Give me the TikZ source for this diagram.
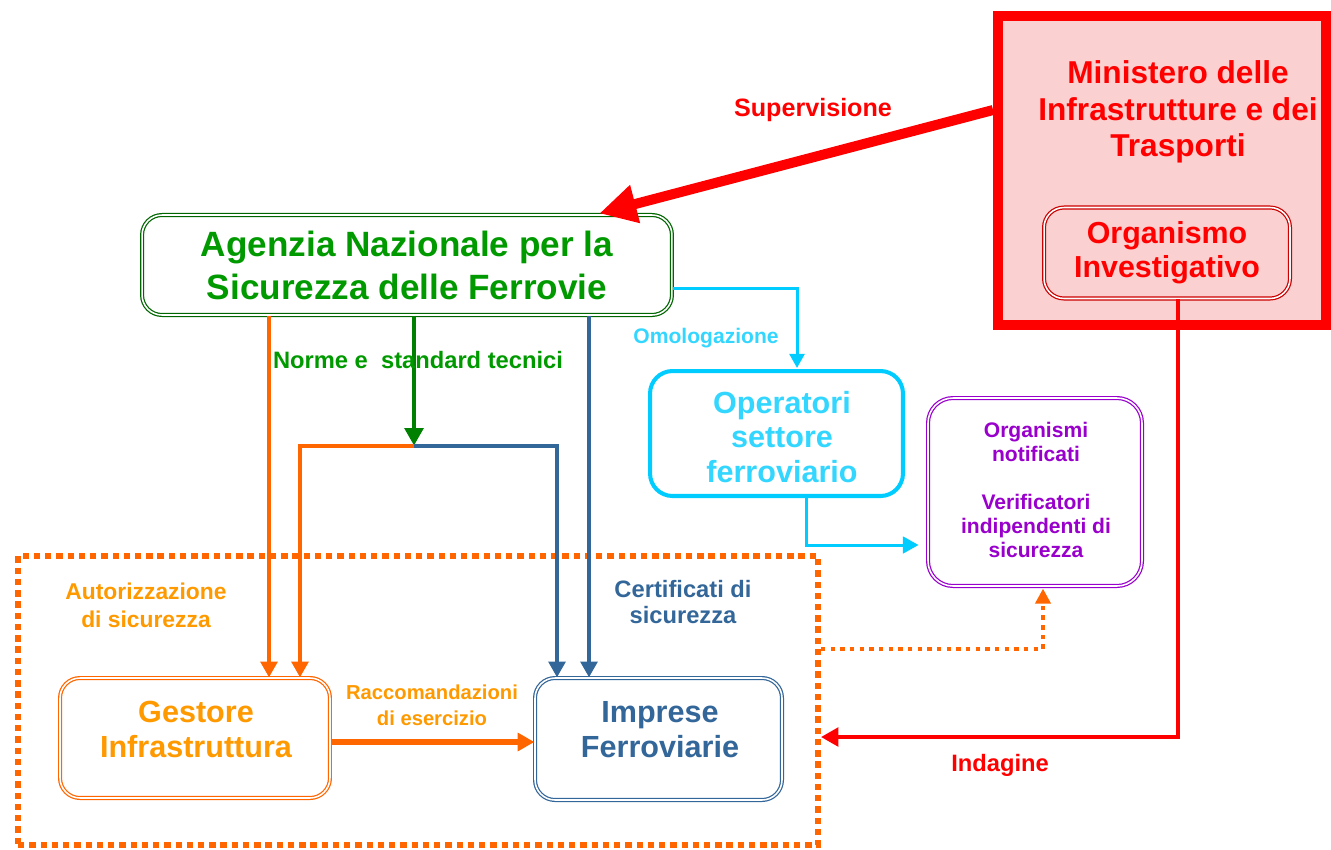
\documentclass[tikz,border=0pt]{standalone}
\usepackage{fontspec}
\setmainfont{Liberation Sans}
\usetikzlibrary{arrows.meta,calc}

\definecolor{ansfgreen}{HTML}{009900}
\definecolor{ansfdark}{HTML}{006600}
\definecolor{gitext}{HTML}{FF9900}
\definecolor{giline}{HTML}{FF6600}
\definecolor{ifblue}{HTML}{336699}
\definecolor{opscyan}{HTML}{00CCFF}
\definecolor{nbpurple}{HTML}{9900CC}
\definecolor{mitred}{HTML}{FF0000}
\definecolor{mitpink}{HTML}{FAD0D0}

\tikzset{
    box/.style={rounded corners=0.4cm, double=white, double distance=0.9pt, line width=0.7pt},
    txt/.style={font=\bfseries, align=center, inner sep=0pt},
    ansfbox/.style={box, draw=ansfdark, fill=white, minimum width=10.6cm, minimum height=2cm,
        text=ansfgreen, font=\bfseries\fontsize{20}{24.5}\selectfont, align=center},
    mitbox/.style={draw=mitred, fill=mitpink, line width=5.7pt, minimum width=6.56cm, minimum height=6.18cm},
    oibox/.style={box, draw=red!80!black, minimum width=4.92cm, minimum height=1.82cm,
        text=mitred, font=\bfseries\fontsize{17.3}{19.3}\selectfont, align=center},
    opsbox/.style={draw=opscyan, fill=white, line width=2.3pt, rounded corners=0.45cm,
        minimum width=5.06cm, minimum height=2.5cm},
    nbbox/.style={box, draw=nbpurple, fill=white, rounded corners=0.5cm, minimum width=4.28cm, minimum height=3.76cm},
    gibox/.style={box, draw=giline, fill=white, minimum width=5.4cm, minimum height=2.4cm},
    ifbox/.style={box, draw=ifblue, fill=white, minimum width=4.94cm, minimum height=2.44cm},
    areabox/.style={draw=giline, line width=3.4pt, dash pattern=on 3.6pt off 2.8pt, minimum width=16cm, minimum height=5.78cm},
    tip/.style={-{Triangle[length=#1, width=1.05*#1]}},
    tip/.default=9pt,
}

\begin{document}
\begin{tikzpicture}[x=0.02cm, y=-0.02cm]
\useasboundingbox (0,0) rectangle (1331,849);

% ministero e organismo investigativo
\node[mitbox] (mit) at (1162,170.5) {};
\node[txt, text=mitred, font=\bfseries\fontsize{18}{20.8}\selectfont] (mittext) at (1178,112)
    {Ministero delle\\Infrastrutture e dei\\Trasporti};
\node[oibox] (oi) at (1167,253) {Organismo\\Investigativo};

% enti
\node[ansfbox] (ansf) at (407,265) {Agenzia Nazionale per la\\Sicurezza delle Ferrovie};
\node[opsbox] (ops) at (776.5,433.5) {};
\node[txt, text=opscyan!80!white, font=\bfseries\fontsize{17.4}{19.8}\selectfont] (opstext) at (782,437)
    {Operatori\\settore\\ferroviario};
\node[nbbox] (nb) at (1035,492) {};
\node[txt, text=nbpurple, font=\bfseries\fontsize{12}{13.6}\selectfont] (nbtext) at (1036,490)
    {Organismi\\notificati\\[13.6pt]Verificatori\\indipendenti di\\sicurezza};
\node[areabox] (area) at (418,700.5) {};
\node[gibox] (gi) at (195,738) {};
\node[txt, text=gitext, font=\bfseries\fontsize{17.4}{19.8}\selectfont] (gitxt) at (196,729.5)
    {Gestore\\Infrastruttura};
\node[ifbox] (if) at (658.5,739) {};
\node[txt, text=ifblue, font=\bfseries\fontsize{17.4}{19.8}\selectfont] (iftxt) at (660,729.5)
    {Imprese\\Ferroviarie};

% collegamenti
\draw[mitred, line width=5.7pt, -{Triangle[length=21pt, width=21pt]}]
    ($(mit.north west)+(0,99)$) -- ($(ansf.north west)+(458,-1)$);
\draw[opscyan, line width=1.7pt, tip=8pt] ($(ansf.east)+(0,23)$) -| ($(ops.north)+(20.5,-1)$);
\draw[opscyan, line width=1.7pt, tip=9pt, shorten >=5pt] ($(ops.south)+(30,0)$) |- ($(nb.west)+(0,53)$);
\coordinate (split) at ($(ansf.south)+(7,130)$);
\draw[green!50!black, line width=2.8pt, tip=10pt] ($(ansf.south)+(7,0)$) -- (split);
\draw[giline, line width=2.3pt, tip] (split) -| ($(gi.north)+(105,0)$);
\draw[ifblue, line width=2.3pt, tip] (split) -| ($(if.north)+(-101.5,0)$);
\draw[giline, line width=2.3pt, tip] ($(ansf.south)+(-138,0)$) -- ($(gi.north)+(74,0)$);
\draw[ifblue, line width=2.3pt, tip] ($(ansf.south)+(182,0)$) -- ($(if.north)+(-69.5,0)$);
\draw[giline, line width=3.4pt, tip=9.5pt] ($(gi.east)+(0,4)$) -- ($(if.west)+(0,3)$);
\draw[mitred, line width=2.8pt, tip=10pt] ($(oi.south)+(11,0)$) |- ($(area.east)+(0,36.5)$);
\draw[giline, line width=2.3pt, dash pattern=on 2.5pt off 3pt, -{Triangle[length=8.5pt, width=8.5pt]}]
    ($(area.east)+(0,-51.5)$) -| ($(nb.south)+(8,2)$);

% etichette
\node[txt, text=mitred, font=\bfseries\fontsize{14.3}{16}\selectfont] (suplab) at (813,110) {Supervisione};
\node[txt, text=opscyan!80!white, font=\bfseries\fontsize{12}{14}\selectfont] (omolab) at (706,338) {Omologazione};
\node[txt, text=ansfgreen, font=\bfseries\fontsize{13.5}{16}\selectfont] (normlab) at (418,360) {Norme e~~standard tecnici};
\node[txt, text=gitext, font=\bfseries\fontsize{13}{16}\selectfont] (autlab) at (146,605) {Autorizzazione\\di sicurezza};
\node[txt, text=ifblue, font=\bfseries\fontsize{13.5}{15}\selectfont] (certlab) at (683,602) {Certificati di\\sicurezza};
\node[txt, text=gitext, font=\bfseries\fontsize{11.5}{14.7}\selectfont] (raclab) at (432,705) {Raccomandazioni\\di esercizio};
\node[txt, text=mitred, font=\bfseries\fontsize{13.5}{16}\selectfont] (indlab) at (1000,765) {Indagine};
\end{tikzpicture}
\end{document}
